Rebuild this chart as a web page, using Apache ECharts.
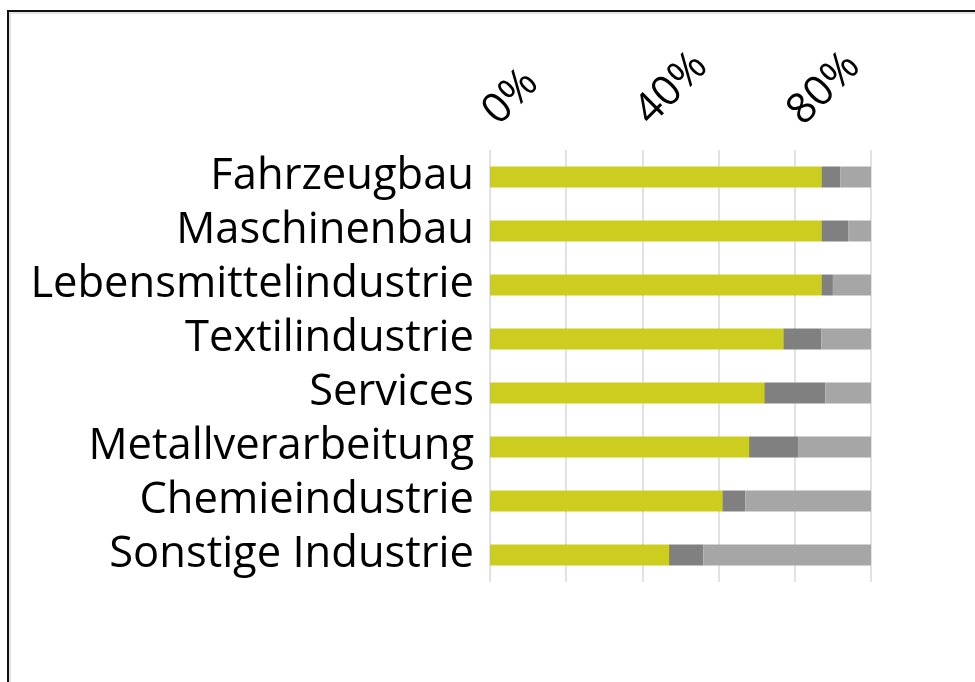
<!DOCTYPE html>
<html>
<head>
<meta charset="utf-8">
<script src="https://cdn.jsdelivr.net/npm/echarts@6/dist/echarts.min.js"></script>
<style>
  html, body { margin: 0; padding: 0; background: #fff; overflow: hidden; }
  #frame { position: absolute; left: 7px; top: 10px; width: 980px; height: 690px;
           border-left: 2px solid #111; border-top: 2px solid #111;
           box-shadow: inset 2px 2px 0 #e2e2e2; }
  #chart { position: absolute; left: 0; top: 0; width: 975px; height: 682px; }
</style>
</head>
<body>
<div id="frame"></div>
<div id="chart"></div>
<script>
const categories = ['Fahrzeugbau', 'Maschinenbau', 'Lebensmittelindustrie', 'Textilindustrie',
                    'Services', 'Metallverarbeitung', 'Chemieindustrie', 'Sonstige Industrie'];
const seriesA = [87, 87, 87, 77, 72, 68, 61, 47];   // yellow
const seriesB = [5, 7, 3, 10, 16, 13, 6, 9];        // dark grey
const seriesC = [8, 6, 10, 13, 12, 19, 33, 44];     // light grey
const tickLabels = ['0%', '40%', '80%'];

const chart = echarts.init(document.getElementById('chart'), null, { renderer: 'canvas' });
const mk = (name, data, color) => ({
  name, type: 'bar', stack: 'total', data, barWidth: 21,
  itemStyle: { color }, emphasis: { disabled: true }
});
chart.setOption({
  animation: false,
  backgroundColor: 'transparent',
  grid: { left: 490, right: 104, top: 150, bottom: 100, containLabel: false },
  xAxis: {
    type: 'value', position: 'top', min: 0, max: 100, interval: 20,
    axisLine: { show: false }, axisTick: { show: false },
    splitLine: { show: true, lineStyle: { color: '#d9d9d9', width: 1.5 } },
    axisLabel: {
      rotate: -45, margin: 32, hideOverlap: false,
      fontFamily: 'Open Sans', fontSize: 42, color: '#000',
      formatter: v => tickLabels.includes(v + '%') ? v + '%' : ''
    }
  },
  yAxis: {
    type: 'category', data: categories, inverse: true,
    axisLine: { show: false }, axisTick: { show: false },
    axisLabel: { interval: 0, hideOverlap: false, fontFamily: 'Open Sans', fontSize: 43.5, color: '#000', margin: 16 }
  },
  series: [
    mk('A', seriesA, '#cdcd20'),
    mk('B', seriesB, '#808080'),
    mk('C', seriesC, '#a6a6a6')
  ]
});
</script>
</body>
</html>
